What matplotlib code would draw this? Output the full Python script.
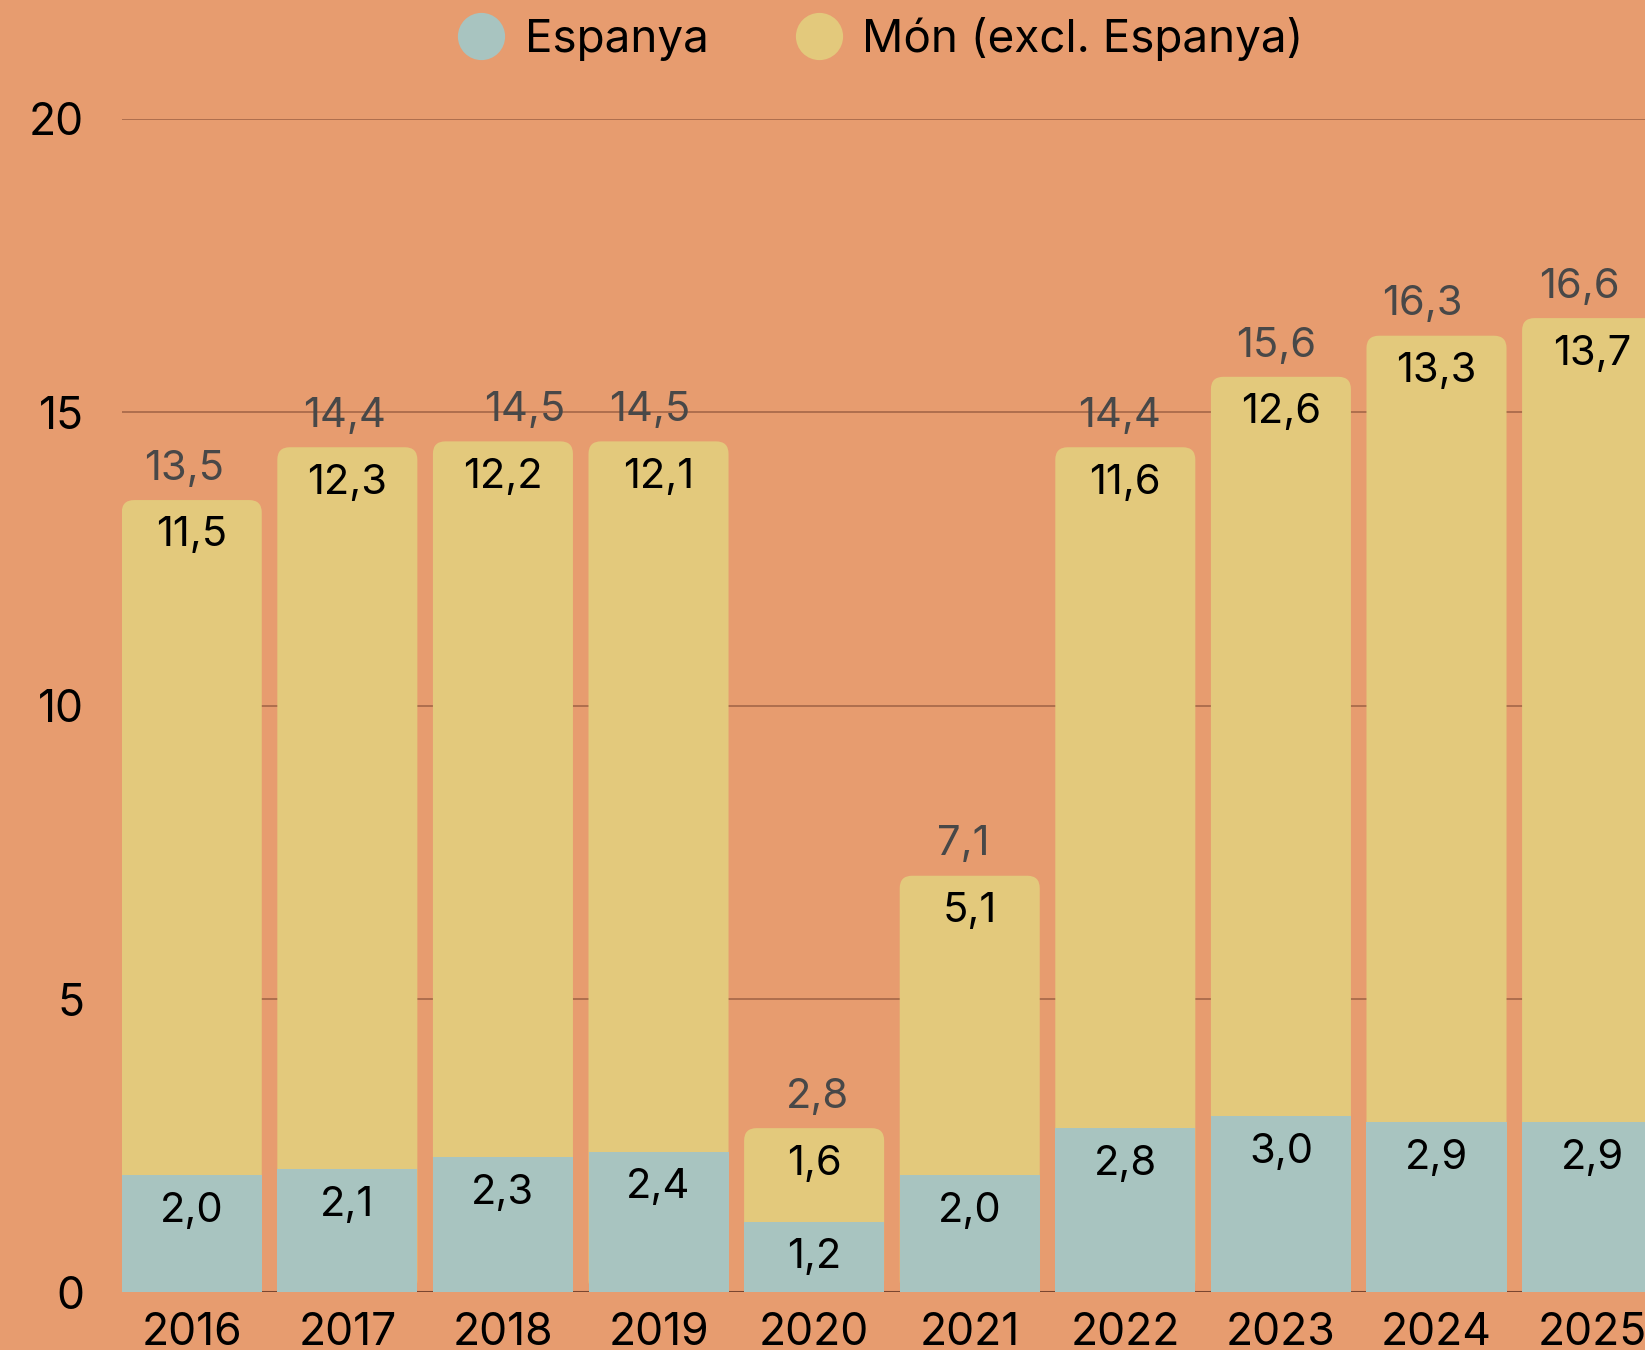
import matplotlib
matplotlib.use("Agg")
import matplotlib.pyplot as plt
from matplotlib.patches import FancyBboxPatch
from matplotlib.lines import Line2D

# ---- data ----
years = ["2016", "2017", "2018", "2019", "2020", "2021", "2022", "2023", "2024", "2025"]
spain = [2.0, 2.1, 2.3, 2.4, 1.2, 2.0, 2.8, 3.0, 2.9, 2.9]
world = [11.5, 12.3, 12.2, 12.1, 1.6, 5.1, 11.6, 12.6, 13.3, 13.7]
total = [13.5, 14.4, 14.5, 14.5, 2.8, 7.1, 14.4, 15.6, 16.3, 16.6]
yticks = [0, 5, 10, 15, 20]
series_names = ["Espanya", "Món (excl. Espanya)"]

# small horizontal nudges for the total labels (x data units)
total_nudge = [-0.05, -0.02, 0.14, -0.06, 0.02, -0.04, -0.04, -0.03, -0.09, -0.08]

BG = "#E79C6F"
BLUE = "#A8C4C0"
YELLOW = "#E3C97C"
GRID = "#AE6E4E"
FONT = ["Inter", "DejaVu Sans"]

plt.rcParams["font.family"] = FONT

fig = plt.figure(figsize=(16.45, 13.5), dpi=100)
fig.patch.set_facecolor(BG)
ax = fig.add_axes([0.074, 0.0426, 0.926, 0.8696])
ax.set_facecolor(BG)

x = list(range(len(years)))
w = 0.9
ax.set_xlim(-0.45, 9.34)
ax.set_ylim(0, 20)

# aspect for rounded corners
fig.canvas.draw()
bb = ax.get_window_extent()
px_per_x = bb.width / (9.34 + 0.45)
px_per_y = bb.height / 20
aspect = px_per_x / px_per_y

# yellow (total) bars with rounded tops
ybars = ax.bar(x, total, width=w, color=YELLOW, zorder=2)
for r in ybars:
    bx, by = r.get_x(), r.get_y()
    bw, bh = r.get_width(), r.get_height()
    r.remove()
    p = FancyBboxPatch((bx, by), bw, bh,
                       boxstyle="round,pad=0,rounding_size=0.08",
                       mutation_aspect=aspect, facecolor=YELLOW,
                       edgecolor="none", zorder=2)
    ax.add_patch(p)

# blue (Spain) bars on top
ax.bar(x, spain, width=w, color=BLUE, zorder=3)

def fmt(v):
    return f"{v:.1f}".replace(".", ",")

for i in x:
    ax.annotate(fmt(spain[i]), (i, spain[i]), xytext=(0, -25.5), textcoords="offset points",
                ha="center", va="center", fontsize=30, color="black", zorder=5)
    ax.annotate(fmt(world[i]), (i, total[i]), xytext=(0, -25.5), textcoords="offset points",
                ha="center", va="center", fontsize=30, color="black", zorder=5)
    ax.annotate(fmt(total[i]), (i + total_nudge[i], total[i]), xytext=(0, 22.5),
                textcoords="offset points", ha="center", va="center",
                fontsize=30, color="#484848", zorder=5)

# grid and axes styling
ax.set_yticks(yticks)
ax.set_yticklabels([str(t) for t in yticks])
ax.yaxis.grid(True, color=GRID, linewidth=1.4, zorder=0)
ax.set_axisbelow(True)
ax.axhline(0, color="#7A4630", linewidth=2.2, zorder=1)
ax.set_xticks(x)
ax.set_xticklabels(years)
for s in ax.spines.values():
    s.set_visible(False)
ax.tick_params(axis="y", length=0, pad=27, labelsize=32, labelcolor="black")
ax.tick_params(axis="x", length=0, pad=14, labelsize=32, labelcolor="black")

# legend
handles = [Line2D([], [], marker="o", linestyle="none", markersize=34,
                  markerfacecolor=c, markeredgecolor="none") for c in (BLUE, YELLOW)]
fig.legend(handles, series_names, loc="center", bbox_to_anchor=(0.5356, 1 - 39 / 1350),
           ncol=2, frameon=False, fontsize=33, handletextpad=0.45, columnspacing=1.9,
           handlelength=1.0)

fig.savefig("out.png", dpi=100, facecolor=BG)
